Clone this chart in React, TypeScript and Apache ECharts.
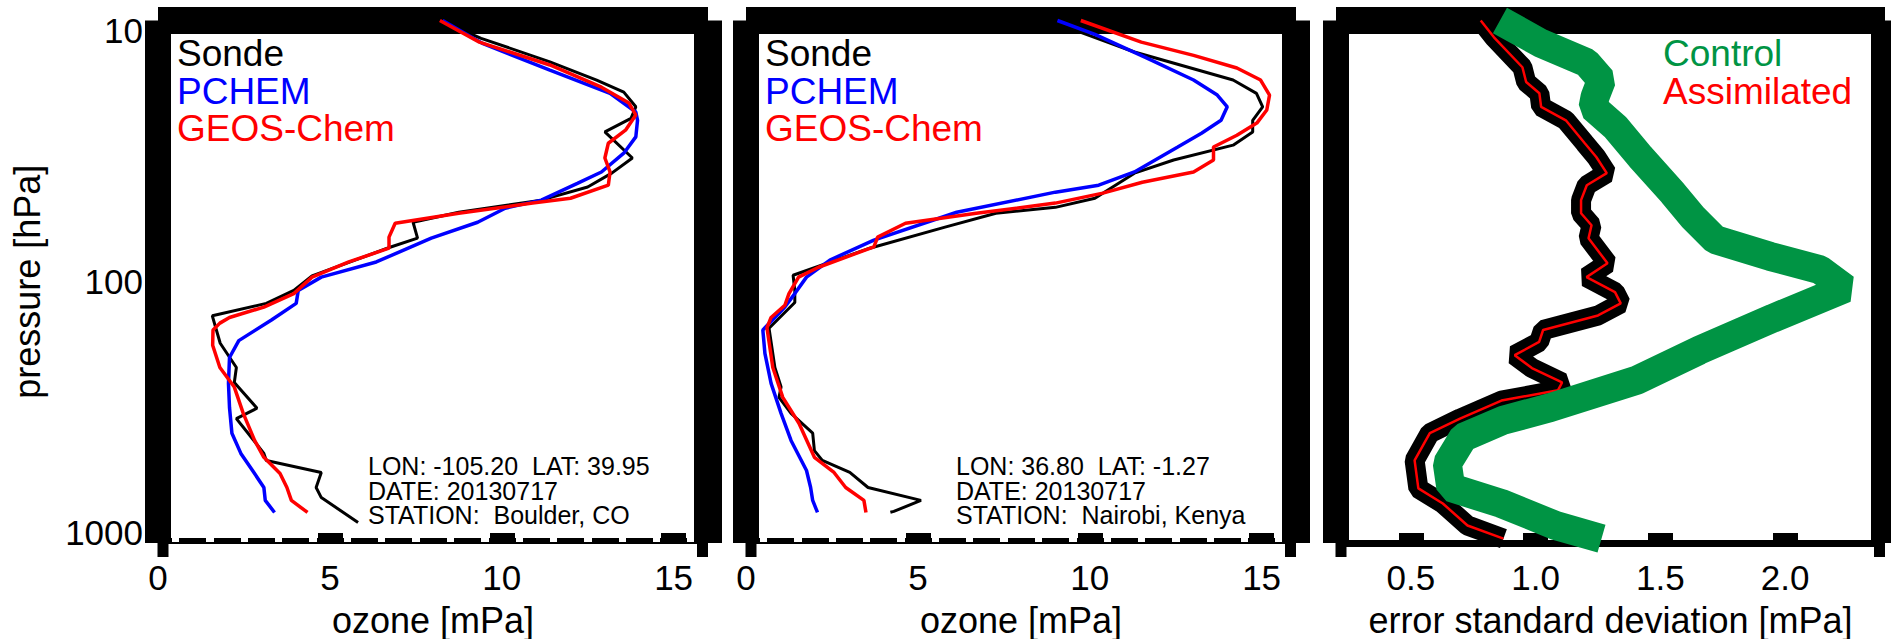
import React, { useEffect, useRef } from 'react';
import * as echarts from 'echarts';

const FONT = '"Liberation Sans", Arial, Helvetica, sans-serif';

// ---------- data: [ozone (mPa), pressure (hPa)] ----------
const boulderSonde: number[][] = [
  [8.2, 10], [9.4, 11.7], [11.4, 14.4], [12.76, 16.9], [13.55, 18.8], [13.9, 21.4], [13.76, 23.7],
  [13.0, 26.7], [13.8, 33.6], [13.2, 38.4], [12.5, 43.4], [11.15, 48.7], [8.75, 54.2], [7.42, 59.2],
  [7.55, 68.1], [6.75, 73.8], [4.48, 95], [3.95, 108], [3.15, 121], [1.58, 135], [1.81, 172],
  [2.28, 213], [2.22, 243], [2.88, 305], [2.28, 334], [2.62, 380], [3.08, 454], [3.15, 483],
  [4.75, 537], [4.6, 613], [4.75, 670], [5.82, 834],
];
const boulderPchem: number[][] = [
  [8.28, 10], [9.42, 12.2], [11.4, 15.5], [13.15, 19], [13.9, 22.4], [13.95, 24.1], [13.9, 27.9],
  [13.55, 32.2], [12.9, 38], [12.2, 42], [11.15, 48.7], [10.1, 52.3], [9.3, 59.2], [7.95, 68.1],
  [6.35, 84], [4.75, 96], [4.08, 108], [4.02, 121], [3.3, 140], [2.35, 168], [2.08, 195], [2.05, 245],
  [2.08, 303], [2.15, 380], [2.41, 454], [2.75, 528], [3.08, 613], [3.12, 687], [3.39, 764],
];
const boulderGeos: number[][] = [
  [8.2, 10], [9.35, 12.1], [11.4, 14.8], [12.9, 18], [13.7, 20.7], [13.9, 23], [13.6, 26.3],
  [13.1, 29.5], [13.0, 33.6], [13.15, 38], [13.1, 42.7], [12.0, 47.9], [10.9, 50], [8.75, 54.7],
  [6.9, 59.7], [6.72, 67.5], [6.72, 74.4], [5.55, 84], [4.48, 96], [3.95, 111], [3.08, 125],
  [2.08, 137], [1.8, 144], [1.6, 153], [1.59, 175], [1.8, 213], [2.22, 253], [2.48, 319],
  [2.81, 405], [3.08, 470], [3.55, 542], [3.75, 613], [3.88, 687], [4.35, 764],
];
const nairobiSonde: number[][] = [
  [9.74, 11.1], [11.3, 13.2], [14.17, 16.9], [14.85, 19], [15.03, 21.4], [14.74, 24.1], [14.74, 26.7],
  [14.17, 30], [12.44, 34.2], [11.3, 38.4], [10.15, 47.9], [9.0, 51.9], [7.27, 54.7], [5.79, 61.8],
  [3.6, 74.4], [1.37, 94.4], [1.42, 108], [1.42, 120], [0.96, 138], [0.67, 150.7], [0.84, 213],
  [1.02, 253], [0.96, 277], [1.31, 319], [1.94, 380], [1.99, 443], [2.22, 483], [3.02, 537],
  [3.55, 613], [5.09, 687], [4.3, 757], [4.2, 763],
];
const nairobiPchem: number[][] = [
  [9.06, 10], [10.15, 11.3], [11.65, 13.9], [13.02, 16.9], [13.71, 19.3], [14.0, 21.4], [13.82, 24.1],
  [13.25, 27], [12.56, 30.5], [11.3, 38], [10.26, 42.7], [9.0, 45.4], [6.13, 54.2], [3.72, 69.3],
  [2.44, 82.6], [1.76, 96], [1.42, 111], [1.13, 125], [0.96, 132], [0.49, 153], [0.55, 188],
  [0.73, 245], [1.02, 319], [1.31, 405], [1.76, 528], [1.88, 613], [1.94, 687], [2.08, 764],
];
const nairobiGeos: number[][] = [
  [9.74, 10], [11.5, 12.1], [13.02, 13.6], [14.28, 15.2], [14.97, 16.9], [15.23, 19.3], [15.15, 22],
  [14.86, 24.7], [14.28, 27.5], [13.6, 30.5], [13.6, 34.2], [13.02, 38], [11.53, 41.6], [10.38, 45.8],
  [9.0, 50], [6.7, 54.7], [4.64, 59.7], [3.83, 67.5], [3.72, 73.5], [2.11, 88], [1.53, 96],
  [1.25, 111], [1.13, 123], [0.73, 137], [0.61, 150], [0.78, 213], [1.07, 277], [1.54, 348],
  [1.99, 470], [2.56, 537], [2.9, 613], [3.43, 687], [3.49, 764],
];
// [error std (mPa), pressure (hPa)]
const errAssimilated: number[][] = [
  [0.78, 10], [0.833, 11.6], [0.947, 15.1], [0.962, 17.2], [1.015, 19], [1.022, 21.4], [1.121, 24.1],
  [1.197, 29.5], [1.243, 33.3], [1.285, 38.4], [1.205, 42.7], [1.182, 48.7], [1.182, 54.7],
  [1.224, 60.8], [1.212, 68.1], [1.288, 85], [1.204, 96], [1.318, 109.6], [1.341, 121], [1.25, 134.6],
  [1.03, 153], [1.014, 170], [0.916, 191], [0.985, 214], [1.106, 243], [1.09, 260], [0.863, 285],
  [0.697, 334], [0.576, 380], [0.515, 483], [0.53, 618], [0.628, 706], [0.727, 857], [0.871, 962],
];
const errControl: number[][] = [
  [0.857, 10], [1.02, 12.2], [1.204, 14.5], [1.264, 16.9], [1.238, 19.6], [1.23, 21.5], [1.32, 25.6],
  [1.42, 33.3], [1.55, 45.8], [1.63, 56.6], [1.72, 69], [1.94, 80], [2.14, 90], [2.24, 106],
  [1.95, 138], [1.655, 183], [1.406, 238], [1.06, 303], [0.87, 339], [0.71, 394], [0.646, 496],
  [0.66, 613], [0.863, 706], [1.08, 857], [1.264, 962],
];

// ---------- labels ----------
const pressureRange = [10, 1000];
const ozoneRange = [0, 16];
const errRange = [0.2, 2.4];
const profileLegend = ['Sonde', 'PCHEM', 'GEOS-Chem'];
const profileColors = ['#000000', '#0000ff', '#ff0000'];
const errLegend = ['Control', 'Assimilated'];
const errColors = ['#009444', '#ff0000'];
const boulderInfo = ['LON: -105.20  LAT: 39.95', 'DATE: 20130717', 'STATION:  Boulder, CO'];
const nairobiInfo = ['LON: 36.80  LAT: -1.27', 'DATE: 20130717', 'STATION:  Nairobi, Kenya'];
const ozoneName = 'ozone [mPa]';
const errName = 'error standard deviation [mPa]';
const pressureName = 'pressure [hPa]';

// ---------- layout ----------
const TOP = 20.5;
const BOTTOM = 543;
const panels = [
  { left: 158, width: 550, range: ozoneRange },
  { left: 746, width: 550, range: ozoneRange },
  { left: 1336, width: 549, range: errRange },
];

function buildOption() {
  const grid = panels.map((p) => ({
    left: p.left, top: TOP, width: p.width, height: BOTTOM - TOP,
    containLabel: false, outerBoundsMode: 'none',
  }));

  const xAxis: any[] = [];
  const yAxis: any[] = [];
  const mainXIndex: number[] = [];
  panels.forEach((p, i) => {
    mainXIndex.push(xAxis.length);
    xAxis.push({
      gridIndex: i, type: 'value', position: 'bottom', min: p.range[0], max: p.range[1],
      ...(i < 2 ? { interval: 5 } : { splitNumber: 5 }),
      axisLine: { show: true, onZero: false, lineStyle: { color: '#000', width: i < 2 ? 2 : 7, cap: 'butt' } },
      axisTick: { show: true, inside: true, length: 10, lineStyle: { color: '#000', width: 25, cap: 'butt' } },
      axisLabel: {
        show: true, margin: 17, fontSize: 35, fontFamily: FONT, color: '#000',
        showMinLabel: i < 2, showMaxLabel: false,
        formatter: i < 2 ? (v: number) => String(Math.round(v)) : (v: number) => v.toFixed(1),
      },
      splitLine: { show: false },
      name: i < 2 ? ozoneName : errName,
      nameLocation: 'middle', nameGap: 59,
      nameTextStyle: { fontSize: 36, fontFamily: FONT, color: '#000' },
    });
    if (i < 2) {
      xAxis.push({
        gridIndex: i, type: 'value', position: 'bottom', min: p.range[0], max: p.range[1], interval: 1,
        axisLine: { show: false, onZero: false },
        axisTick: { show: true, inside: true, length: 5, lineStyle: { color: '#000', width: 27, cap: 'butt' } },
        axisLabel: { show: false }, splitLine: { show: false },
      });
    }
    xAxis.push({
      gridIndex: i, type: 'value', position: 'top', min: p.range[0], max: p.range[1],
      axisLine: { show: true, onZero: false, lineStyle: { color: '#000', width: 27, cap: 'butt' } },
      axisTick: { show: false }, axisLabel: { show: false }, splitLine: { show: false },
    });

    const richBase = { fontSize: 35, fontFamily: FONT, color: '#000' };
    yAxis.push({
      gridIndex: i, type: 'log', logBase: 10, min: pressureRange[0], max: pressureRange[1],
      inverse: true, position: 'left',
      axisLine: { show: true, onZero: false, lineStyle: { color: '#000', width: 26, cap: 'butt' } },
      axisTick: { show: false }, splitLine: { show: false },
      axisLabel: i === 0 ? {
        show: true, margin: 15, fontSize: 35, fontFamily: FONT, color: '#000',
        formatter: (v: number) => {
          const r = Math.round(v);
          if (r === pressureRange[0]) return '{a|' + r + '}';
          if (r === pressureRange[1]) return '{c|' + r + '}';
          return '{b|' + r + '}';
        },
        rich: {
          a: { ...richBase, padding: [19, 0, 0, 0] },
          b: { ...richBase },
          c: { ...richBase, padding: [0, 0, 22, 0] },
        },
      } : { show: false },
      name: i === 0 ? pressureName : '',
      nameLocation: 'middle', nameGap: 113, nameRotate: 90,
      nameTextStyle: { fontSize: 36, fontFamily: FONT, color: '#000' },
    });
    yAxis.push({
      gridIndex: i, type: 'log', logBase: 10, min: pressureRange[0], max: pressureRange[1],
      inverse: true, position: 'right',
      axisLine: { show: true, onZero: false, lineStyle: { color: '#000', width: 28, cap: 'butt' } },
      axisTick: { show: false }, axisLabel: { show: false }, splitLine: { show: false },
    });
  });

  const line = (name: string, data: number[][], panel: number, color: string, width: number) => ({
    type: 'line', name, data, xAxisIndex: mainXIndex[panel], yAxisIndex: panel * 2,
    showSymbol: false, symbol: 'none', clip: false, silent: true,
    lineStyle: { color, width, cap: 'butt', join: 'bevel' },
  });

  const series = [
    line('Sonde', boulderSonde, 0, profileColors[0], 3),
    line('PCHEM', boulderPchem, 0, profileColors[1], 3.5),
    line('GEOS-Chem', boulderGeos, 0, profileColors[2], 3.5),
    line('Sonde', nairobiSonde, 1, profileColors[0], 3),
    line('PCHEM', nairobiPchem, 1, profileColors[1], 3.5),
    line('GEOS-Chem', nairobiGeos, 1, profileColors[2], 3.5),
    line('Assimilated outline', errAssimilated, 2, '#000000', 20),
    line('Assimilated', errAssimilated, 2, errColors[1], 2.5),
    line('Control', errControl, 2, errColors[0], 29),
  ];

  const graphic: any[] = [];
  panels.forEach((p) => {
    graphic.push({ type: 'rect', z: 100, shape: { x: p.left - 0.5, y: BOTTOM, width: 11, height: 14 }, style: { fill: '#000' } });
    graphic.push({ type: 'rect', z: 100, shape: { x: p.left + p.width - 11, y: BOTTOM, width: 11, height: 14 }, style: { fill: '#000' } });
  });
  const legendYs = [53, 91, 128];
  [0, 1].forEach((pi) => {
    profileLegend.forEach((t, k) => {
      graphic.push({
        type: 'text', z: 100, x: panels[pi].left + 19, y: legendYs[k],
        style: { text: t, fill: profileColors[k], fontSize: 37, fontFamily: FONT, align: 'left', verticalAlign: 'middle' },
      });
    });
  });
  errLegend.forEach((t, k) => {
    graphic.push({
      type: 'text', z: 100, x: 1663, y: legendYs[k],
      style: { text: t, fill: errColors[k], fontSize: 37, fontFamily: FONT, align: 'left', verticalAlign: 'middle' },
    });
  });
  const infoYs = [466, 490.5, 515];
  [boulderInfo, nairobiInfo].forEach((lines, pi) => {
    lines.forEach((t, k) => {
      graphic.push({
        type: 'text', z: 100, x: panels[pi].left + 210, y: infoYs[k],
        style: { text: t, fill: '#000', fontSize: 25, fontFamily: FONT, align: 'left', verticalAlign: 'middle' },
      });
    });
  });

  return {
    animation: false,
    backgroundColor: '#ffffff',
    textStyle: { fontFamily: FONT },
    grid, xAxis, yAxis, series, graphic,
  };
}

export default function App() {
  const ref = useRef<HTMLDivElement>(null);
  useEffect(() => {
    if (!ref.current) return;
    const chart = echarts.init(ref.current, null, { renderer: 'svg' });
    chart.setOption(buildOption() as any);
    return () => chart.dispose();
  }, []);
  return (
    <div
      ref={ref}
      style={{ position: 'fixed', left: 0, top: 0, width: 1891, height: 639, background: '#fff' }}
    />
  );
}
